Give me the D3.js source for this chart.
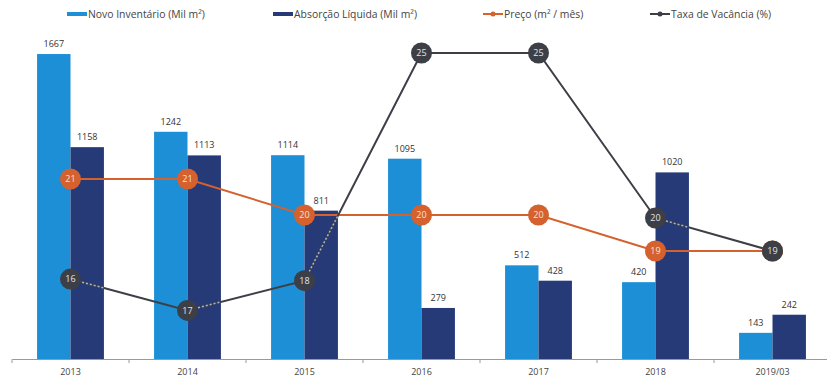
<!DOCTYPE html>
<html><head><meta charset="utf-8">
<script src="https://cdn.jsdelivr.net/npm/d3@7"></script>
<style>
body{margin:0;background:#fff;}
text{font-family:"Open Sans","Noto Sans",sans-serif;}
</style></head>
<body><svg id="c" width="827" height="383"></svg>
<script>
const categories = ["2013","2014","2015","2016","2017","2018","2019/03"];
const novoInventario = [1667,1242,1114,1095,512,420,143];
const absorcaoLiquida = [1158,1113,811,279,428,1020,242];
const preco = [21,21,20,20,20,19,19];
const vacanciaPlot = [18.15,17.2,18.1,25,25,20,19];
const vacanciaLabels = [16,17,18,25,25,20,19];
const legendLabels = ["Novo Inventário (Mil m²)","Absorção Líquida (Mil m²)","Preço (m² / mês)","Taxa de Vacância (%)"];

const C_LIGHT="#1c8fd6", C_DARK="#263a78", C_PRICE="#d4612e", C_VAC="#3d3f47";
const svg=d3.select("#c");

const x0=d3.scaleBand().domain(categories).range([12,831]).padding(0);
const x1=d3.scaleBand().domain(["n","a"]).range([0,x0.bandwidth()]).paddingInner(0).paddingOuter(0.75);
const y=d3.scaleLinear().domain([0,1700]).range([359,48]);
const yP=d3.scaleLinear().domain([19,21]).range([251,179]);
const yV=d3.scaleLinear().domain([19,25]).range([251,53]);
const cx=c=>x0(c)+x0.bandwidth()/2;

// bars
const g=svg.append("g");
categories.forEach((c,i)=>{
  [["n",novoInventario[i],C_LIGHT],["a",absorcaoLiquida[i],C_DARK]].forEach(([k,v,col])=>{
    g.append("rect").attr("x",x0(c)+x1(k)).attr("y",y(v)).attr("width",x1.bandwidth()).attr("height",y(0)-y(v)).attr("fill",col);
    g.append("text").attr("x",x0(c)+x1(k)+x1.bandwidth()/2).attr("y",y(v)-7).attr("text-anchor","middle")
      .attr("font-size",9).attr("fill","#333").text(v);
  });
});

// axis
const axis=d3.axisBottom(x0).tickSize(0).tickPadding(10);
const ax=svg.append("g").attr("transform",`translate(0,${y(0)})`).call(axis);
ax.select(".domain").attr("stroke","#999").attr("stroke-width",1.2);
ax.selectAll("text").attr("font-size",9).attr("fill","#444").attr("font-family","Open Sans, sans-serif");
ax.selectAll(".bnd").data(categories).enter().append("line").attr("x1",d=>x0(d)).attr("x2",d=>x0(d)).attr("y1",0).attr("y2",4).attr("stroke","#999");

// clip of dark bars
const defs=svg.append("defs");
const cp=defs.append("clipPath").attr("id","darkbars");
categories.forEach((c,i)=>cp.append("rect").attr("x",x0(c)+x1("a")).attr("y",y(absorcaoLiquida[i])).attr("width",x1.bandwidth()).attr("height",y(0)-y(absorcaoLiquida[i])));

// price line
const lineP=d3.line().x((d,i)=>cx(categories[i])).y(d=>yP(d));
svg.append("path").datum(preco).attr("d",lineP).attr("fill","none").attr("stroke",C_PRICE).attr("stroke-width",2);

// vacancy line
const lineV=d3.line().x((d,i)=>cx(categories[i])).y(d=>yV(d));
svg.append("path").datum(vacanciaPlot).attr("d",lineV).attr("fill","none").attr("stroke",C_VAC).attr("stroke-width",2);
svg.append("path").datum(vacanciaPlot).attr("d",lineV).attr("fill","none").attr("stroke","#aab4c8").attr("stroke-width",1.5).attr("stroke-dasharray","2,2").attr("clip-path","url(#darkbars)");

// markers
preco.forEach((v,i)=>{
  svg.append("circle").attr("cx",cx(categories[i])).attr("cy",yP(v)).attr("r",10.5).attr("fill",C_PRICE);
  svg.append("text").attr("x",cx(categories[i])).attr("y",yP(v)+3.2).attr("text-anchor","middle").attr("font-size",9).attr("fill","#f6e2d8").text(v);
});
vacanciaPlot.forEach((v,i)=>{
  svg.append("circle").attr("cx",cx(categories[i])).attr("cy",yV(v)).attr("r",10.5).attr("fill",C_VAC);
  svg.append("text").attr("x",cx(categories[i])).attr("y",yV(v)+3.2).attr("text-anchor","middle").attr("font-size",9).attr("fill","#e4e4e8").text(vacanciaLabels[i]);
});

// legend
const lg=svg.append("g");
const lx=[67,273,483,650];
lg.append("rect").attr("x",lx[0]).attr("y",12).attr("width",20).attr("height",4).attr("fill",C_LIGHT);
lg.append("rect").attr("x",lx[1]).attr("y",12).attr("width",20).attr("height",4).attr("fill",C_DARK);
[[2,C_PRICE],[3,C_VAC]].forEach(([k,col])=>{
  lg.append("line").attr("x1",lx[k]).attr("x2",lx[k]+20).attr("y1",14).attr("y2",14).attr("stroke",col).attr("stroke-width",2);
  lg.append("circle").attr("cx",lx[k]+10).attr("cy",14).attr("r",2.5).attr("fill",col);
});
legendLabels.forEach((t,k)=>{
  lg.append("text").attr("x",lx[k]+21).attr("y",18).attr("font-size",10.4).attr("fill","#444").text(t);
});
</script></body></html>
